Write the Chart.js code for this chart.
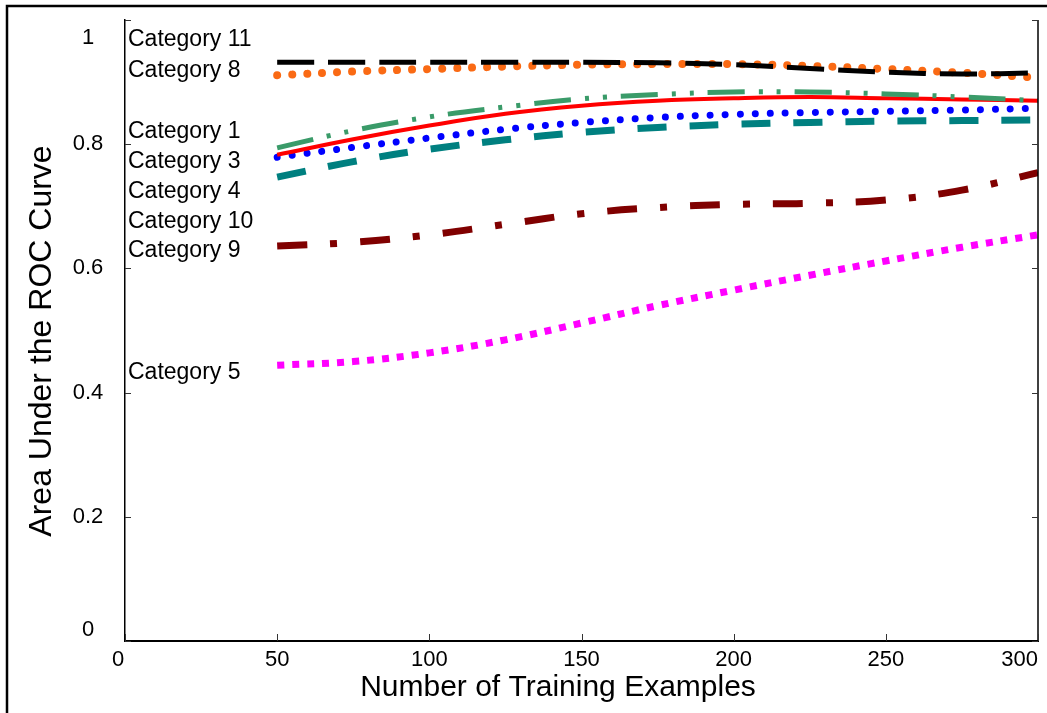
<!DOCTYPE html>
<html>
<head>
<meta charset="utf-8">
<script src="https://cdn.jsdelivr.net/npm/chart.js@4.4.0/dist/chart.umd.min.js"></script>
<style>
  body { margin: 0; background: #fff; }
</style>
</head>
<body>
<canvas id="miGrafico" width="1047" height="713"></canvas>
<script>
// datos
var xValues = [50, 75, 100, 125, 150, 175, 200, 225, 250, 275, 300];
var cat11 = [0.932, 0.932, 0.932, 0.932, 0.932, 0.931, 0.928, 0.922, 0.916, 0.913, 0.915];
var cat8  = [0.911, 0.917, 0.921, 0.925, 0.928, 0.929, 0.929, 0.926, 0.921, 0.915, 0.907];
var cat1  = [0.794, 0.822, 0.844, 0.860, 0.873, 0.880, 0.884, 0.884, 0.881, 0.876, 0.870];
var cat3  = [0.783, 0.808, 0.830, 0.849, 0.862, 0.870, 0.874, 0.876, 0.874, 0.872, 0.870];
var cat4  = [0.779, 0.795, 0.810, 0.824, 0.835, 0.843, 0.848, 0.851, 0.853, 0.855, 0.858];
var cat10 = [0.747, 0.772, 0.792, 0.807, 0.819, 0.827, 0.832, 0.835, 0.837, 0.838, 0.839];
var cat9  = [0.636, 0.642, 0.654, 0.671, 0.688, 0.698, 0.703, 0.705, 0.710, 0.726, 0.754];
var cat5  = [0.444, 0.450, 0.464, 0.485, 0.512, 0.540, 0.565, 0.589, 0.612, 0.634, 0.654];

var categoryNames = ['Category 11', 'Category 8', 'Category 1', 'Category 3', 'Category 4', 'Category 10', 'Category 9', 'Category 5'];
var labelValues = [0.968, 0.919, 0.820, 0.772, 0.724, 0.676, 0.628, 0.432];

var xTickValues = [0, 50, 100, 150, 200, 250, 300];
var yTickValues = [0, 0.2, 0.4, 0.6, 0.8, 1];

var xTitle = 'Number of Training Examples';
var yTitle = 'Area Under the ROC Curve';

var fontName = '"Liberation Sans", Arial, sans-serif';

function puntos(ys) {
  return ys.map(function (y, i) { return { x: xValues[i], y: y }; });
}

function serie(label, ys, color, width, dash, cap) {
  return {
    label: label,
    data: puntos(ys),
    borderColor: color,
    borderWidth: width,
    borderDash: dash,
    borderCapStyle: cap || 'butt',
    pointRadius: 0,
    fill: false,
    tension: 0.4
  };
}

// dibuja marco, ticks hacia dentro, etiquetas y textos de categoria
var decoracion = {
  id: 'decoracion',
  afterDraw: function (chart) {
    var ctx = chart.ctx;
    var a = chart.chartArea;
    var xs = chart.scales.x;
    var ys = chart.scales.y;
    ctx.save();

    // marco exterior
    ctx.strokeStyle = '#000';
    ctx.lineWidth = 2.5;
    ctx.beginPath();
    ctx.moveTo(7, 713);
    ctx.lineTo(7, 6);
    ctx.lineTo(1047, 6);
    ctx.stroke();

    // borde derecho
    ctx.lineWidth = 1.5;
    ctx.beginPath();
    ctx.moveTo(a.right, a.top);
    ctx.lineTo(a.right, a.bottom);
    ctx.stroke();

    // ticks
    ctx.lineWidth = 1;
    ctx.strokeStyle = '#333';
    ctx.beginPath();
    yTickValues.forEach(function (v) {
      var py = Math.round(ys.getPixelForValue(v)) + 0.5;
      ctx.moveTo(a.left, py); ctx.lineTo(a.left + 6, py);
      ctx.moveTo(a.right, py); ctx.lineTo(a.right - 6, py);
    });
    xTickValues.forEach(function (v) {
      var px = Math.round(xs.getPixelForValue(v)) + 0.5;
      ctx.moveTo(px, a.bottom); ctx.lineTo(px, a.bottom - 7);
    });
    ctx.stroke();

    // etiquetas de los ejes
    ctx.fillStyle = '#000';
    ctx.font = '22px ' + fontName;
    ctx.textBaseline = 'middle';
    ctx.textAlign = 'center';
    yTickValues.forEach(function (v) {
      var py = ys.getPixelForValue(v);
      py = Math.max(a.top + 18, Math.min(a.bottom - 11, py));
      ctx.fillText(String(v), 88, py);
    });
    xTickValues.forEach(function (v) {
      var px = xs.getPixelForValue(v);
      var w = ctx.measureText(String(v)).width;
      if (px + w / 2 > a.right) px = a.right - w / 2;
      if (v === 0) px -= 7;
      ctx.fillText(String(v), px, 660);
    });

    // titulos
    ctx.font = '30px ' + fontName;
    ctx.fillText(xTitle, 558, 688);
    ctx.save();
    ctx.translate(42, 341);
    ctx.rotate(-Math.PI / 2);
    ctx.font = '32px ' + fontName;
    ctx.fillText(yTitle, 0, 0);
    ctx.restore();

    // nombres de las categorias
    ctx.font = '23px ' + fontName;
    ctx.textAlign = 'left';
    categoryNames.forEach(function (n, i) {
      ctx.fillText(n, a.left + 3, ys.getPixelForValue(labelValues[i]));
    });
    ctx.restore();
  }
};

var ctx = document.getElementById('miGrafico').getContext('2d');
var miGrafico = new Chart(ctx, {
  type: 'line',
  data: {
    datasets: [
      serie(categoryNames[0], cat11, '#000000', 5, [37, 14]),
      serie(categoryNames[1], cat8, '#fa6a14', 8, [0.01, 15], 'round'),
      serie(categoryNames[2], cat1, '#3a9b69', 5, [37, 14, 4, 14, 4, 14]),
      serie(categoryNames[3], cat3, '#ff0000', 4, []),
      serie(categoryNames[4], cat4, '#0000ff', 7, [0.01, 15], 'round'),
      serie(categoryNames[5], cat10, '#008080', 7, [29, 23]),
      serie(categoryNames[6], cat9, '#800000', 7, [30, 23, 7, 23]),
      serie(categoryNames[7], cat5, '#ff00ff', 7, [7, 8])
    ]
  },
  options: {
    responsive: false,
    animation: false,
    layout: { padding: { top: 20, right: 9, left: 0, bottom: 0 } },
    plugins: { legend: { display: false }, tooltip: { enabled: false } },
    scales: {
      x: {
        type: 'linear',
        min: 0,
        max: 300,
        afterBuildTicks: function (s) { s.ticks = xTickValues.map(function (v) { return { value: v }; }); },
        afterFit: function (s) { s.height = 72; },
        ticks: { display: false },
        grid: { display: false, drawTicks: false },
        border: { display: true, color: '#000', width: 2 },
        title: { display: false, text: xTitle }
      },
      y: {
        min: 0,
        max: 1,
        afterBuildTicks: function (s) { s.ticks = yTickValues.map(function (v) { return { value: v }; }); },
        afterFit: function (s) { s.width = 125; },
        ticks: { display: false },
        grid: { display: false, drawTicks: false },
        border: { display: true, color: '#000', width: 1.5 },
        title: { display: false, text: yTitle }
      }
    }
  },
  plugins: [decoracion]
});
</script>
</body>
</html>
